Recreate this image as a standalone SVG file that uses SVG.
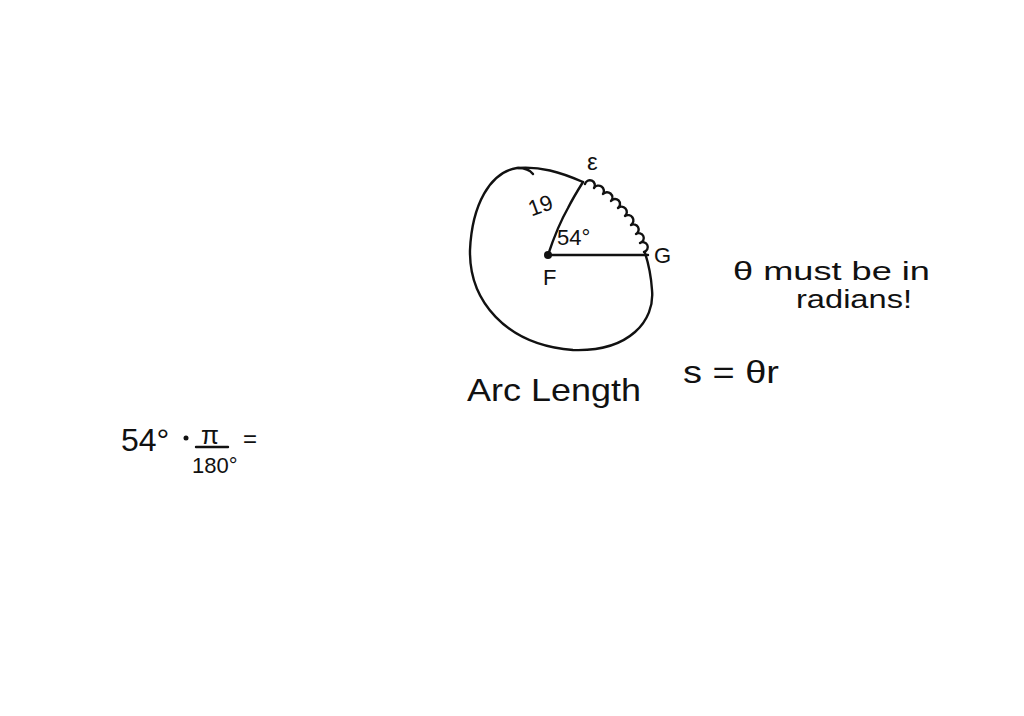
<svg xmlns="http://www.w3.org/2000/svg" width="1024" height="716" viewBox="0 0 1024 716">
<style>
.s{fill:none;stroke:#111;stroke-width:2.4;stroke-linecap:round;stroke-linejoin:round}
.t{font-family:"Liberation Sans",Arial,sans-serif;fill:#111}
</style>
<rect width="1024" height="716" fill="#fff"/>
<g id="circle">
<path class="s" d="M583,182 C560,172 540,166 517,168 C490,172 472,205 470,250 C469,300 505,345 573,350 C630,352 655,320 652,290 C651,275 648,262 645,253"/>
<path class="s" d="M518,168 C525,168 530,170 533,174"/>
</g>
<g id="radii">
<path class="s" d="M548,255 L648,255"/>
<path class="s" d="M548,255 C553,240 560,222 568,208 C573,198 578,190 583,182"/>
<circle cx="548" cy="255" r="4" fill="#111"/>
</g>
<g id="arc-squiggle">
<path class="s" d="M585,184 A5,5 0 1 1 594,188 A5,5 0 1 1 603,194 A5,5 0 1 1 611,201 A5,5 0 1 1 618,208 A5,5 0 1 1 625,216 A5,5 0 1 1 631,225 A5,5 0 1 1 636,234 A5,5 0 1 1 640,243 A5,5 0 1 1 644,252"/>
</g>
<g id="labels">
<text class="t" x="587" y="170" font-size="24">ε</text>
<text class="t" x="528" y="213" font-size="22" transform="rotate(-20 540 205)">19</text>
<text class="t" x="557" y="245" font-size="22">54°</text>
<text class="t" x="543" y="285" font-size="22">F</text>
<text class="t" x="654" y="263" font-size="22">G</text>
</g>
<g id="note">
<text class="t" x="733" y="280" font-size="26" textLength="197" lengthAdjust="spacingAndGlyphs">θ must be in</text>
<text class="t" x="796" y="308" font-size="26" textLength="116" lengthAdjust="spacingAndGlyphs">radians!</text>
</g>
<g id="formula">
<text class="t" x="467" y="401" font-size="32" textLength="174" lengthAdjust="spacingAndGlyphs">Arc Length</text>
<text class="t" x="683" y="383" font-size="32" textLength="96" lengthAdjust="spacingAndGlyphs">s = θr</text>
</g>
<g id="conversion">
<text class="t" x="121" y="451" font-size="32">54°</text>
<circle cx="186" cy="438" r="2.5" fill="#111"/>
<text class="t" x="201" y="444" font-size="26">π</text>
<path class="s" d="M196,447 L228,447"/>
<text class="t" x="192" y="473" font-size="22">180°</text>
<text class="t" x="243" y="447" font-size="24">=</text>
</g>
</svg>
